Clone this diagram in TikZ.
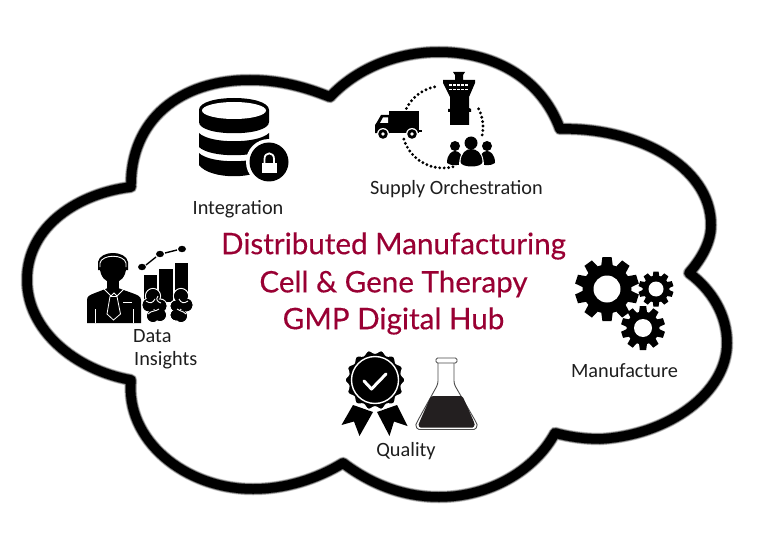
\documentclass[tikz,border=0pt]{standalone}
\usepackage{fontspec}
\setmainfont{Carlito}
\newfontfamily\titlefont[FakeBold=0.35]{Lato}
\definecolor{hubred}{RGB}{153,0,51}
\definecolor{labelgrey}{RGB}{30,30,30}
\definecolor{liquid}{RGB}{35,31,32}
\newcommand{\cloudpath}{
  (131,187) .. controls (80,193) and (27,225) .. (27,280)
  .. controls (27,330) and (75,370) .. (131,380)
  .. controls (125,440) and (185,489) .. (253,489)
  .. controls (285,489) and (317,479) .. (343,463)
  .. controls (372,485) and (405,497) .. (439,497)
  .. controls (490,497) and (535,470) .. (555,433)
  .. controls (570,437) and (585,439) .. (600,439)
  .. controls (670,435) and (727,392) .. (727,343)
  .. controls (727,315) and (712,290) .. (689,273)
  .. controls (702,258) and (711,242) .. (711,225)
  .. controls (711,165) and (635,127) .. (560,129)
  .. controls (540,75) and (490,52) .. (439,52)
  .. controls (395,52) and (355,70) .. (330,97)
  .. controls (305,87) and (280,80) .. (250,80)
  .. controls (180,80) and (130,120) .. (131,187) -- cycle
}
% centre x, centre y, outer r, root r, hole r, tooth half width
\newcommand{\mygear}[6]{
  \fill (#1,#2) circle (#4);
  \foreach \a in {90,126,...,414} {
    \fill ({#1+(#4-1)*cos(\a)-#6*1.25*sin(\a)},{#2-(#4-1)*sin(\a)-#6*1.25*cos(\a)})
       -- ({#1+#3*cos(\a)-#6*sin(\a)},{#2-#3*sin(\a)-#6*cos(\a)})
       -- ({#1+#3*cos(\a)+#6*sin(\a)},{#2-#3*sin(\a)+#6*cos(\a)})
       -- ({#1+(#4-1)*cos(\a)+#6*1.25*sin(\a)},{#2-(#4-1)*sin(\a)+#6*1.25*cos(\a)}) -- cycle;
  }
  \fill[white] (#1,#2) circle (#5);
}
\tikzset{
  lbl/.style={font=\fontsize{20.3}{22}\selectfont, text=labelgrey, inner sep=0pt},
  ttl/.style={font=\titlefont\fontsize{29.6}{32}\selectfont, text=hubred, inner sep=0pt},
  wline/.style={white, line width=1pt},
}
\begin{document}
\begin{tikzpicture}[x=1pt,y=-1pt]
\useasboundingbox (0,0) rectangle (765,556);
\fill[white] (0,0) rectangle (765,556);
% cloud with soft edge
\draw[line width=12.5pt, black!25, line join=round] \cloudpath;
\draw[line width=11pt, black!60, line join=round] \cloudpath;
\draw[line width=9.5pt, black, line join=round] \cloudpath;

% database
\fill (199,110) .. controls (199,94) and (269,94) .. (269,110) -- (269,122)
   .. controls (269,137) and (199,137) .. (199,122) -- cycle;
\fill[white] (234,110.5) ellipse (32 and 8.5);
\fill (199,133) .. controls (210,144) and (258,144) .. (269,133) -- (269,147)
   .. controls (258,158) and (210,158) .. (199,147) -- cycle;
\fill (199,153) .. controls (210,164) and (258,164) .. (269,153) -- (269,165)
   .. controls (258,180) and (210,180) .. (199,165) -- cycle;
\fill[white] (269,162) circle (23);
\fill (269,162) circle (19.5);
\fill[white] (261.5,163) rectangle (277,173);
\draw[white,line width=1.8pt] (264.5,163) -- (264.5,159) .. controls (264.5,151.5) and (274,151.5) .. (274,159) -- (274,163);

% supply: dotted ring
\foreach \a in {207,213.4,...,264} \fill ({443+41*cos(\a)},{127+41*sin(\a)}) circle (1.6);
\foreach \a in {-27,-20.6,...,13} \fill ({443+40*cos(\a)},{127+40*sin(\a)}) circle (1.6);
\foreach \a in {76,82.2,...,164} \fill ({443+41*cos(\a)},{127+41*sin(\a)}) circle (1.6);
% truck
\fill (389,111) rectangle (419,133);
\fill (389,115) -- (381,115) -- (377,122) -- (375,125) -- (375,133) -- (389,134) -- cycle;
\fill (419,130) rectangle (422,132);
\fill[white] (380,123) -- (383,117.5) -- (388,117.5) -- (388,123) -- cycle;
\foreach \wx in {383,412} {
  \fill[white] (\wx,134) circle (6);
  \fill (\wx,134) circle (4.8);
  \fill[white] (\wx,134) circle (1.8);
}
% tower
\fill (453,72) -- (465,72) -- (463,75) -- (463,80) -- (475,80) -- (475,83) -- (469,97)
   -- (469,108) -- (471,109) -- (471,112) -- (469,112) -- (469,125) -- (450,125) -- (450,112)
   -- (448,112) -- (448,109) -- (450,109) -- (450,97) -- (443,83) -- (443,80) -- (455,80) -- (455,75) -- cycle;
\draw[white,line width=1.3pt,dash pattern=on 3pt off 1pt] (449,85) -- (469,85);
\draw[white,line width=1.3pt,dash pattern=on 3pt off 1pt] (449,89.5) -- (469,89.5);
% people
\fill (455,146) circle (5);
\fill (447,163) .. controls (447,154) and (452,151) .. (455,151) .. controls (459,151) and (463,155) .. (463,163) .. controls (459,166) and (451,166) .. (447,163) -- cycle;
\fill (487,146) circle (5);
\fill (495,163) .. controls (495,154) and (490,151) .. (487,151) .. controls (483,151) and (479,155) .. (479,163) .. controls (483,166) and (491,166) .. (495,163) -- cycle;
\fill[white] (471,143) circle (7.5);
\fill[white] (459,166) .. controls (459,152) and (466,147) .. (471,147) .. controls (477,147) and (484,152) .. (484,166) -- cycle;
\fill (471,143) circle (6.5);
\fill (460.5,162) .. controls (461,153) and (466,149) .. (471,149) .. controls (477,149) and (482,153) .. (482.5,162) .. controls (482,168) and (461,168) .. (460.5,162) -- cycle;

% person with chart
\fill (113,268) ellipse (13 and 15);
\fill (98,262) .. controls (100,250) and (126,250) .. (128,262) -- (128,270) -- (98,270) -- cycle;
\fill (107,278) rectangle (119,292);
\fill (87,323) -- (87,300) .. controls (87,296) and (90,295) .. (95,293) -- (108,288) -- (113,292) -- (118,288) -- (132,293) .. controls (137,295) and (141,296) .. (141,300) -- (141,323) -- cycle;
\draw[wline,line width=.9pt] (100,267) -- (100,263) .. controls (102,254) and (124,254) .. (126,263) -- (126,267);
\draw[wline] (104,289) -- (111,296) -- (114,293) -- (117,296) -- (124,289);
\draw[wline,fill=black,line width=.8pt] (110,296.5) -- (117,296.5) -- (120.5,314) -- (113.5,320) -- (107,314) -- cycle;
\draw[wline] (123,302) -- (132,302);
\draw[wline,line width=.8pt] (95,309) -- (95,323);
\draw[wline,line width=.8pt] (133,309) -- (133,323);
% bars
\fill (144,275) rectangle (157,300);
\fill (159,269) rectangle (173,302);
\fill (175,263) rectangle (188,298);
% chart dots
\foreach \dx/\dy in {142/267,160/254,182/249} \fill (\dx,\dy) ellipse (4 and 3.2);
\draw[line width=1.4pt] (146,265) -- (156,257);
\draw[line width=1.4pt] (165,253) -- (177,250);
% brains
\foreach \bx/\by/\br in {153/296/7.5,149/305/7,153/316/6.5,160/306/7,160/315/6.5,181/296/7.5,186/305/7,181/316/6.5,176/306/6,176/315/6} {
  \draw[white,line width=1.1pt,fill=black] (\bx,\by) circle (\br);
}
\foreach \bx/\by/\br in {153/296/6.9,149/305/6.4,153/316/5.9,160/306/6.4,160/315/5.9,181/296/6.9,186/305/6.4,181/316/5.9,176/306/5.4,176/315/5.4} {
  \fill (\bx,\by) circle (\br);
}
\draw[wline,line width=.9pt] (146,301) .. controls (150,304) and (153,303) .. (155,299);
\draw[wline,line width=.9pt] (148,314) .. controls (152,310) and (155,312) .. (159,309);
\draw[wline,line width=.9pt] (158,296) .. controls (155,300) and (158,302) .. (161,303);
\draw[wline,line width=.9pt] (188,301) .. controls (184,304) and (181,303) .. (179,299);
\draw[wline,line width=.9pt] (186,314) .. controls (182,310) and (180,312) .. (177,309);

% badge
\fill[white] (353,403) -- (397,403) -- (410,428) -- (389,440) -- (375,415) -- (360,440) -- (340,428) -- cycle;
\fill (353,405) -- (341.5,425) -- (354,421.5) -- (359.5,436) -- (373,412) -- cycle;
\fill (397,405) -- (407.5,426) -- (394,421.5) -- (389.5,436) -- (377,412) -- cycle;
\draw[white,line width=1.5pt,fill=black] plot[domain=0:360,samples=113,smooth] ({375+(28.5+1.6*cos(14*\x))*cos(\x)},{380+(28.5+1.6*cos(14*\x))*sin(\x)}) -- cycle;
\draw[white,line width=1.4pt] (375,380) circle (23.5);
\draw[white,line width=3pt,line cap=round,line join=round] (364,381) -- (371.5,389) -- (386,374);
% flask
\draw[black!70,line width=.8pt,fill=white,rounded corners=1.5pt] (436,358) rectangle (457,363);
\draw[black!70,line width=.9pt,rounded corners=3pt] (438,363) -- (438,384) -- (417,422) .. controls (415,427) and (418,429.5) .. (422,429.5) -- (471,429.5) .. controls (475,429.5) and (478,427) .. (476,422) -- (454,384) -- (454,363);
\fill[liquid,rounded corners=2.5pt] (431,396) -- (462.5,396) -- (474,422) .. controls (475,426) and (473,427.5) .. (470,427.5) -- (423,427.5) .. controls (420,427.5) and (418,426) .. (419.5,422) -- cycle;

% gears
\mygear{607}{289}{32}{24.5}{13.5}{4.6}
\mygear{656}{289}{17.5}{13.5}{7.5}{2.6}
\mygear{643}{328}{22}{16.5}{9}{3.2}

% texts
\node[lbl] (integration) at (238,209) {Integration};
\node[lbl] (supply) at (456.5,189) {Supply Orchestration};
\node[ttl] (title1) at (393.5,246) {Distributed Manufacturing};
\node[ttl] (title2) at (393.5,284) {Cell \& Gene Therapy};
\node[ttl] (title3) at (393.5,321) {GMP Digital Hub};
\node[lbl,anchor=west] (data) at (133,336) {Data};
\node[lbl,anchor=west] (insights) at (134,360.5) {Insights};
\node[lbl] (manufacture) at (624.5,371) {Manufacture};
\node[lbl] (quality) at (406,451) {Quality};
\end{tikzpicture}
\end{document}
